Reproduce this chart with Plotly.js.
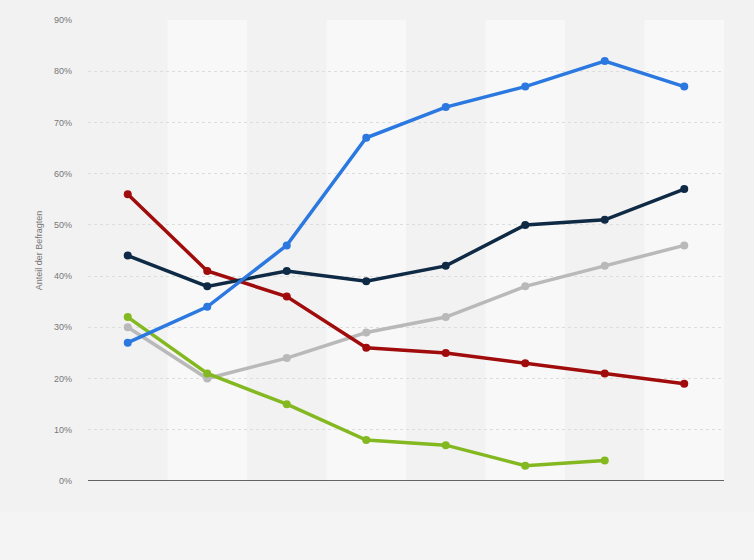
<!DOCTYPE html>
<html>
<head>
<meta charset="utf-8">
<script src="https://cdn.plot.ly/plotly-3.0.1.min.js"></script>
<style>html,body{margin:0;padding:0;background:#f3f3f3;}#chart{width:754px;height:560px;}</style>
</head>
<body>
<div id="chart"></div>
<script>
const categories = ["1", "2", "3", "4", "5", "6", "7", "8"];
const seriesBlue  = [27, 34, 46, 67, 73, 77, 82, 77];
const seriesNavy  = [44, 38, 41, 39, 42, 50, 51, 57];
const seriesGray  = [30, 20, 24, 29, 32, 38, 42, 46];
const seriesRed   = [56, 41, 36, 26, 25, 23, 21, 19];
const seriesGreen = [32, 21, 15, 8, 7, 3, 4, null];
const yTickVals = [0, 10, 20, 30, 40, 50, 60, 70, 80, 90];
const yTickText = ["0%", "10%", "20%", "30%", "40%", "50%", "60%", "70%", "80%", "90%"];

function mk(y, color) {
  return {
    x: categories, y: y, type: "scatter", mode: "lines+markers",
    line: {color: color, width: 3.5}, marker: {color: color, size: 8},
    connectgaps: false, hoverinfo: "skip", showlegend: false, cliponaxis: false
  };
}
const traces = [
  mk(seriesGray, "#b9b9b9"),
  mk(seriesGreen, "#84b820"),
  mk(seriesRed, "#a00b0b"),
  mk(seriesNavy, "#0e2a45"),
  mk(seriesBlue, "#2a78e0")
];

const shapes = [];
// slightly lighter bottom strip of the page
shapes.push({type: "rect", xref: "paper", yref: "paper", x0: -0.2, x1: 1.2, y0: -0.2, y1: -0.067,
  fillcolor: "#f4f4f4", line: {width: 0}, layer: "below"});
categories.forEach((c, i) => {
  shapes.push({type: "rect", xref: "x", yref: "paper", x0: i - 0.5, x1: i + 0.5, y0: 0, y1: 1,
    fillcolor: i % 2 === 0 ? "#f2f2f2" : "#f8f8f8", line: {width: 0}, layer: "below"});
});

const layout = {
  width: 754, height: 560,
  margin: {l: 88, r: 30, t: 20, b: 79},
  paper_bgcolor: "#f2f2f2", plot_bgcolor: "rgba(0,0,0,0)",
  font: {family: "Arial, Liberation Sans, sans-serif", size: 9, color: "#666"},
  xaxis: {type: "category", range: [-0.5, 7.5], showticklabels: false, showgrid: false,
    zeroline: false, showline: false, ticks: "", fixedrange: true},
  yaxis: {range: [0, 90], tickvals: yTickVals, ticktext: yTickText, showgrid: true,
    gridcolor: "#dddddd", griddash: "dot", gridwidth: 1, zeroline: false,
    showline: false, ticks: "", ticklabelstandoff: 15,
    tickfont: {size: 9, color: "#777"},
    title: {text: "Anteil der Befragten", font: {size: 9, color: "#777"}, standoff: 9}},
  shapes: shapes.concat([{type: "line", xref: "paper", yref: "y", x0: 0, x1: 1, y0: 0, y1: 0,
    line: {color: "#333", width: 1.5}, layer: "above"}])
};
Plotly.newPlot("chart", traces, layout, {displayModeBar: false, staticPlot: true});
</script>
</body>
</html>
